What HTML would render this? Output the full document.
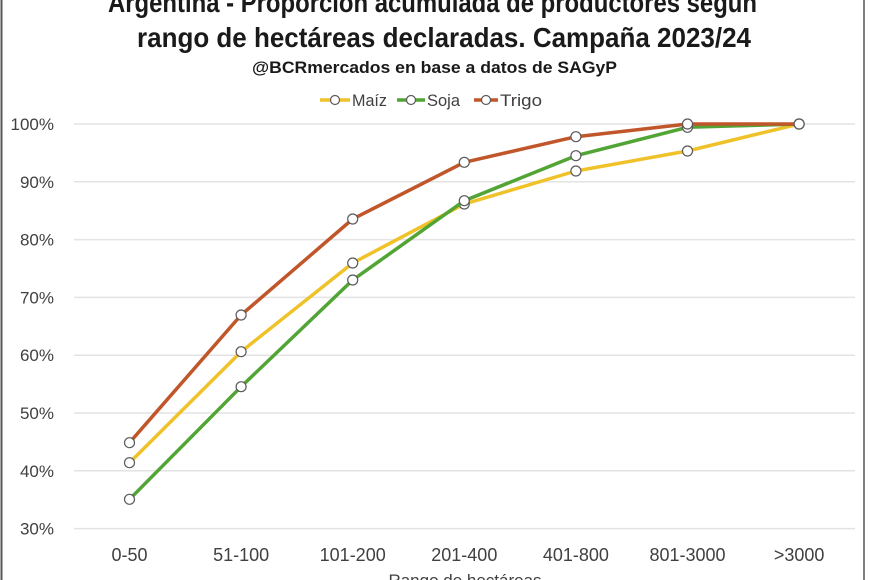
<!DOCTYPE html>
<html>
<head>
<meta charset="utf-8">
<style>
  html,body{margin:0;padding:0;background:#fff;}
  svg{display:block;}
  text{font-family:"Liberation Sans",sans-serif;}
</style>
</head>
<body>
<svg width="870" height="580" viewBox="0 0 870 580" xmlns="http://www.w3.org/2000/svg">
  <rect x="0" y="0" width="870" height="580" fill="#ffffff"/>
  <!-- frame -->
  <line x1="1.5" y1="0" x2="1.5" y2="580" stroke="#555" stroke-width="2"/>
  <line x1="864" y1="0" x2="864" y2="580" stroke="#555" stroke-width="1.5"/>

  <!-- titles -->
  <text x="108" y="12" font-size="28" font-weight="bold" fill="#1a1a1a" textLength="649" lengthAdjust="spacingAndGlyphs">Argentina - Proporción acumulada de productores según</text>
  <text x="137" y="47" font-size="28" font-weight="bold" fill="#1a1a1a" textLength="614" lengthAdjust="spacingAndGlyphs">rango de hectáreas declaradas. Campaña 2023/24</text>
  <text x="252" y="73" font-size="17" font-weight="bold" fill="#1a1a1a" textLength="365" lengthAdjust="spacingAndGlyphs">@BCRmercados en base a datos de SAGyP</text>

  <!-- legend -->
  <g stroke-width="3.5">
    <line x1="320" y1="100" x2="350" y2="100" stroke="#F0C22A"/>
    <circle cx="335" cy="100" r="4.5" fill="#fff" stroke="#5a5a5a" stroke-width="1.2"/>
    <line x1="397" y1="100" x2="425" y2="100" stroke="#52A535"/>
    <circle cx="411" cy="100" r="4.5" fill="#fff" stroke="#5a5a5a" stroke-width="1.2"/>
    <line x1="474" y1="100" x2="498" y2="100" stroke="#C0562A"/>
    <circle cx="486" cy="100" r="4.5" fill="#fff" stroke="#5a5a5a" stroke-width="1.2"/>
  </g>
  <g font-size="17" fill="#404040">
    <text x="352" y="106" textLength="35" lengthAdjust="spacingAndGlyphs">Maíz</text>
    <text x="427" y="106" textLength="33" lengthAdjust="spacingAndGlyphs">Soja</text>
    <text x="500" y="106" textLength="42" lengthAdjust="spacingAndGlyphs">Trigo</text>
  </g>

  <!-- gridlines -->
  <g stroke="#E3E3E3" stroke-width="1.5">
    <line x1="74" y1="124" x2="855" y2="124"/>
    <line x1="74" y1="181.8" x2="855" y2="181.8"/>
    <line x1="74" y1="239.6" x2="855" y2="239.6"/>
    <line x1="74" y1="297.4" x2="855" y2="297.4"/>
    <line x1="74" y1="355.2" x2="855" y2="355.2"/>
    <line x1="74" y1="413" x2="855" y2="413"/>
    <line x1="74" y1="470.8" x2="855" y2="470.8"/>
    <line x1="74" y1="528.6" x2="855" y2="528.6"/>
  </g>

  <!-- y labels -->
  <g font-size="17" fill="#404040" text-anchor="end">
    <text x="54" y="130">100%</text>
    <text x="54" y="187.8">90%</text>
    <text x="54" y="245.6">80%</text>
    <text x="54" y="303.4">70%</text>
    <text x="54" y="361.2">60%</text>
    <text x="54" y="419">50%</text>
    <text x="54" y="476.8">40%</text>
    <text x="54" y="534.6">30%</text>
  </g>

  <!-- x labels -->
  <g font-size="18" fill="#404040" text-anchor="middle">
    <text x="129.5" y="561">0-50</text>
    <text x="241.1" y="561">51-100</text>
    <text x="352.7" y="561">101-200</text>
    <text x="464.3" y="561">201-400</text>
    <text x="575.9" y="561">401-800</text>
    <text x="687.5" y="561">801-3000</text>
    <text x="799.1" y="561">&gt;3000</text>
  </g>
  <text x="465" y="586" font-size="17" fill="#404040" text-anchor="middle">Rango de hectáreas</text>

  <!-- series: Maíz -->
  <polyline fill="none" stroke="#F0C22A" stroke-width="3.5" stroke-linejoin="round"
    points="129.5,462.7 241.1,351.7 352.7,263 464.3,204 575.9,171 687.5,151 799.1,124"/>
  <g fill="#fff" stroke="#5a5a5a" stroke-width="1.2">
    <circle cx="129.5" cy="462.7" r="5"/>
    <circle cx="241.1" cy="351.7" r="5"/>
    <circle cx="352.7" cy="263" r="5"/>
    <circle cx="464.3" cy="204" r="5"/>
    <circle cx="575.9" cy="171" r="5"/>
    <circle cx="687.5" cy="151" r="5"/>
    <circle cx="799.1" cy="124" r="5"/>
  </g>

  <!-- series: Soja -->
  <polyline fill="none" stroke="#52A535" stroke-width="3.5" stroke-linejoin="round"
    points="129.5,499.3 241.1,386.7 352.7,280 464.3,200.7 575.9,155.7 687.5,127.3 799.1,124"/>
  <g fill="#fff" stroke="#5a5a5a" stroke-width="1.2">
    <circle cx="129.5" cy="499.3" r="5"/>
    <circle cx="241.1" cy="386.7" r="5"/>
    <circle cx="352.7" cy="280" r="5"/>
    <circle cx="464.3" cy="200.7" r="5"/>
    <circle cx="575.9" cy="155.7" r="5"/>
    <circle cx="687.5" cy="127.3" r="5"/>
    <circle cx="799.1" cy="124" r="5"/>
  </g>

  <!-- series: Trigo -->
  <polyline fill="none" stroke="#C0562A" stroke-width="3.5" stroke-linejoin="round"
    points="129.5,442.7 241.1,315 352.7,219 464.3,162.3 575.9,136.7 687.5,124 799.1,124"/>
  <g fill="#fff" stroke="#5a5a5a" stroke-width="1.2">
    <circle cx="129.5" cy="442.7" r="5"/>
    <circle cx="241.1" cy="315" r="5"/>
    <circle cx="352.7" cy="219" r="5"/>
    <circle cx="464.3" cy="162.3" r="5"/>
    <circle cx="575.9" cy="136.7" r="5"/>
    <circle cx="687.5" cy="124" r="5"/>
    <circle cx="799.1" cy="124" r="5"/>
  </g>
</svg>
</body>
</html>
